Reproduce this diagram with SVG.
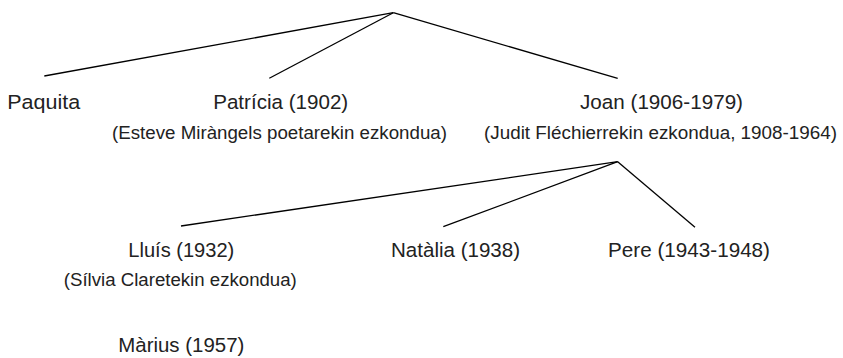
<svg xmlns="http://www.w3.org/2000/svg" width="843" height="358" viewBox="0 0 843 358">
  <style>
    .name { font-family: "Liberation Sans", Arial, sans-serif; font-size: 20.5px; fill: #222; text-anchor: middle; }
    .sub { font-family: "Liberation Sans", Arial, sans-serif; font-size: 17.5px; fill: #222; text-anchor: middle; }
    .edge { stroke: #000; stroke-width: 1.3; fill: none; }
  </style>
  <rect width="843" height="358" fill="#fff"/>
  <g id="connectors">
    <line class="edge" x1="393.3" y1="12.7" x2="44.3" y2="76"/>
    <line class="edge" x1="393.3" y1="12.7" x2="269.3" y2="78.3"/>
    <line class="edge" x1="393.3" y1="12.7" x2="617.7" y2="78.3"/>
    <line class="edge" x1="617.7" y1="161.7" x2="181" y2="226"/>
    <line class="edge" x1="617.7" y1="161.7" x2="443.3" y2="226.7"/>
    <line class="edge" x1="617.7" y1="161.7" x2="695" y2="227.3"/>
  </g>
  <g id="paquita">
    <text class="name" x="43.7" y="109" textLength="73" lengthAdjust="spacingAndGlyphs">Paquita</text>
  </g>
  <g id="patricia">
    <text class="name" x="280.7" y="109" textLength="135" lengthAdjust="spacingAndGlyphs">Patrícia (1902)</text>
    <text class="sub" x="279.5" y="138.5" textLength="335" lengthAdjust="spacingAndGlyphs">(Esteve Miràngels poetarekin ezkondua)</text>
  </g>
  <g id="joan">
    <text class="name" x="661.5" y="109" textLength="163" lengthAdjust="spacingAndGlyphs">Joan (1906-1979)</text>
    <text class="sub" x="660.5" y="138.5" textLength="353" lengthAdjust="spacingAndGlyphs">(Judit Fléchierrekin ezkondua, 1908-1964)</text>
  </g>
  <g id="lluis">
    <text class="name" x="181.3" y="257" textLength="106" lengthAdjust="spacingAndGlyphs">Lluís (1932)</text>
    <text class="sub" x="180.3" y="286" textLength="233" lengthAdjust="spacingAndGlyphs">(Sílvia Claretekin ezkondua)</text>
  </g>
  <g id="natalia">
    <text class="name" x="455.5" y="257" textLength="129" lengthAdjust="spacingAndGlyphs">Natàlia (1938)</text>
  </g>
  <g id="pere">
    <text class="name" x="689" y="257" textLength="162" lengthAdjust="spacingAndGlyphs">Pere (1943-1948)</text>
  </g>
  <g id="marius">
    <text class="name" x="181.3" y="352" textLength="126" lengthAdjust="spacingAndGlyphs">Màrius (1957)</text>
  </g>
</svg>
